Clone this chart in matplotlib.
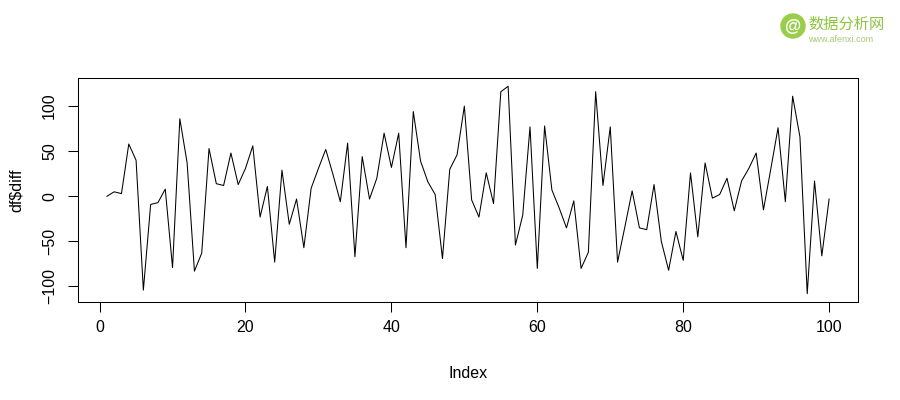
import matplotlib
matplotlib.use("Agg")
import matplotlib.pyplot as plt
from matplotlib.patches import Circle

# df$diff values, index 1..100
diff = [
    0, 5, 3, 58, 40, -104, -9, -7, 8, -79,
    86, 37, -83, -63, 53, 14, 12, 48, 13, 31,
    56, -23, 11, -73, 29, -31, -3, -57, 9, 31,
    52, 24, -6, 59, -67, 44, -3, 20, 70, 32,
    70, -57, 94, 39, 16, 2, -69, 30, 46, 100,
    -4, -23, 26, -8, 116, 122, -54, -21, 77, -80,
    78, 7, -13, -35, -5, -80, -62, 116, 12, 77,
    -73, -34, 6, -35, -37, 13, -50, -82, -39, -71,
    26, -45, 37, -2, 2, 20, -16, 17, 31, 48,
    -15, 30, 76, -6, 111, 66, -108, 17, -66, -3,
]
index = list(range(1, len(diff) + 1))

x_ticks = [0, 20, 40, 60, 80, 100]
y_ticks = [-100, -50, 0, 50, 100]

plt.rcParams["font.family"] = ["Liberation Sans", "DejaVu Sans"]

fig = plt.figure(figsize=(9, 4), dpi=100)
ax = fig.add_axes([78 / 900, 98 / 400, 780 / 900, 224 / 400])

ax.plot(index, diff, color="black", linewidth=0.75)

# R style 4% padding on both axes
xr = max(index) - min(index)
yr = max(diff) - min(diff)
ax.set_xlim(min(index) - 0.04 * xr, max(index) + 0.04 * xr)
ax.set_ylim(min(diff) - 0.04 * yr, max(diff) + 0.04 * yr)

ax.set_xticks(x_ticks)
ax.set_yticks(y_ticks)
ax.tick_params(direction="out", length=7, width=0.75, labelsize=11.5,
               colors="black")
ax.tick_params(axis="x", pad=6)
ax.tick_params(axis="y", pad=8)
for lab in ax.get_yticklabels():
    lab.set_rotation(90)
    lab.set_va("center")

for s in ax.spines.values():
    s.set_linewidth(0.75)

ax.set_xlabel("Index", fontsize=11.5, labelpad=22)
ax.set_ylabel("df$diff", fontsize=11.5, labelpad=13)

# watermark in the top right corner
logo = Circle((793, 400 - 26), 12, transform=None, color="#9acd4a",
              zorder=5)
fig.patches.append(logo)
fig.text(793 / 900, 1 - 26 / 400, "@", color="white", fontsize=12,
         ha="center", va="center", fontweight="bold", zorder=6)
fig.text(808 / 900, 1 - 24 / 400, "数据分析网", color="#8cc63f",
         fontsize=11, ha="left", va="center",
         family=["Noto Sans CJK SC", "DejaVu Sans"])
fig.text(808 / 900, 1 - 40 / 400, "www.afenxi.com", color="#a8c878",
         fontsize=6.5, ha="left", va="center")

fig.savefig("out.png", dpi=100)
